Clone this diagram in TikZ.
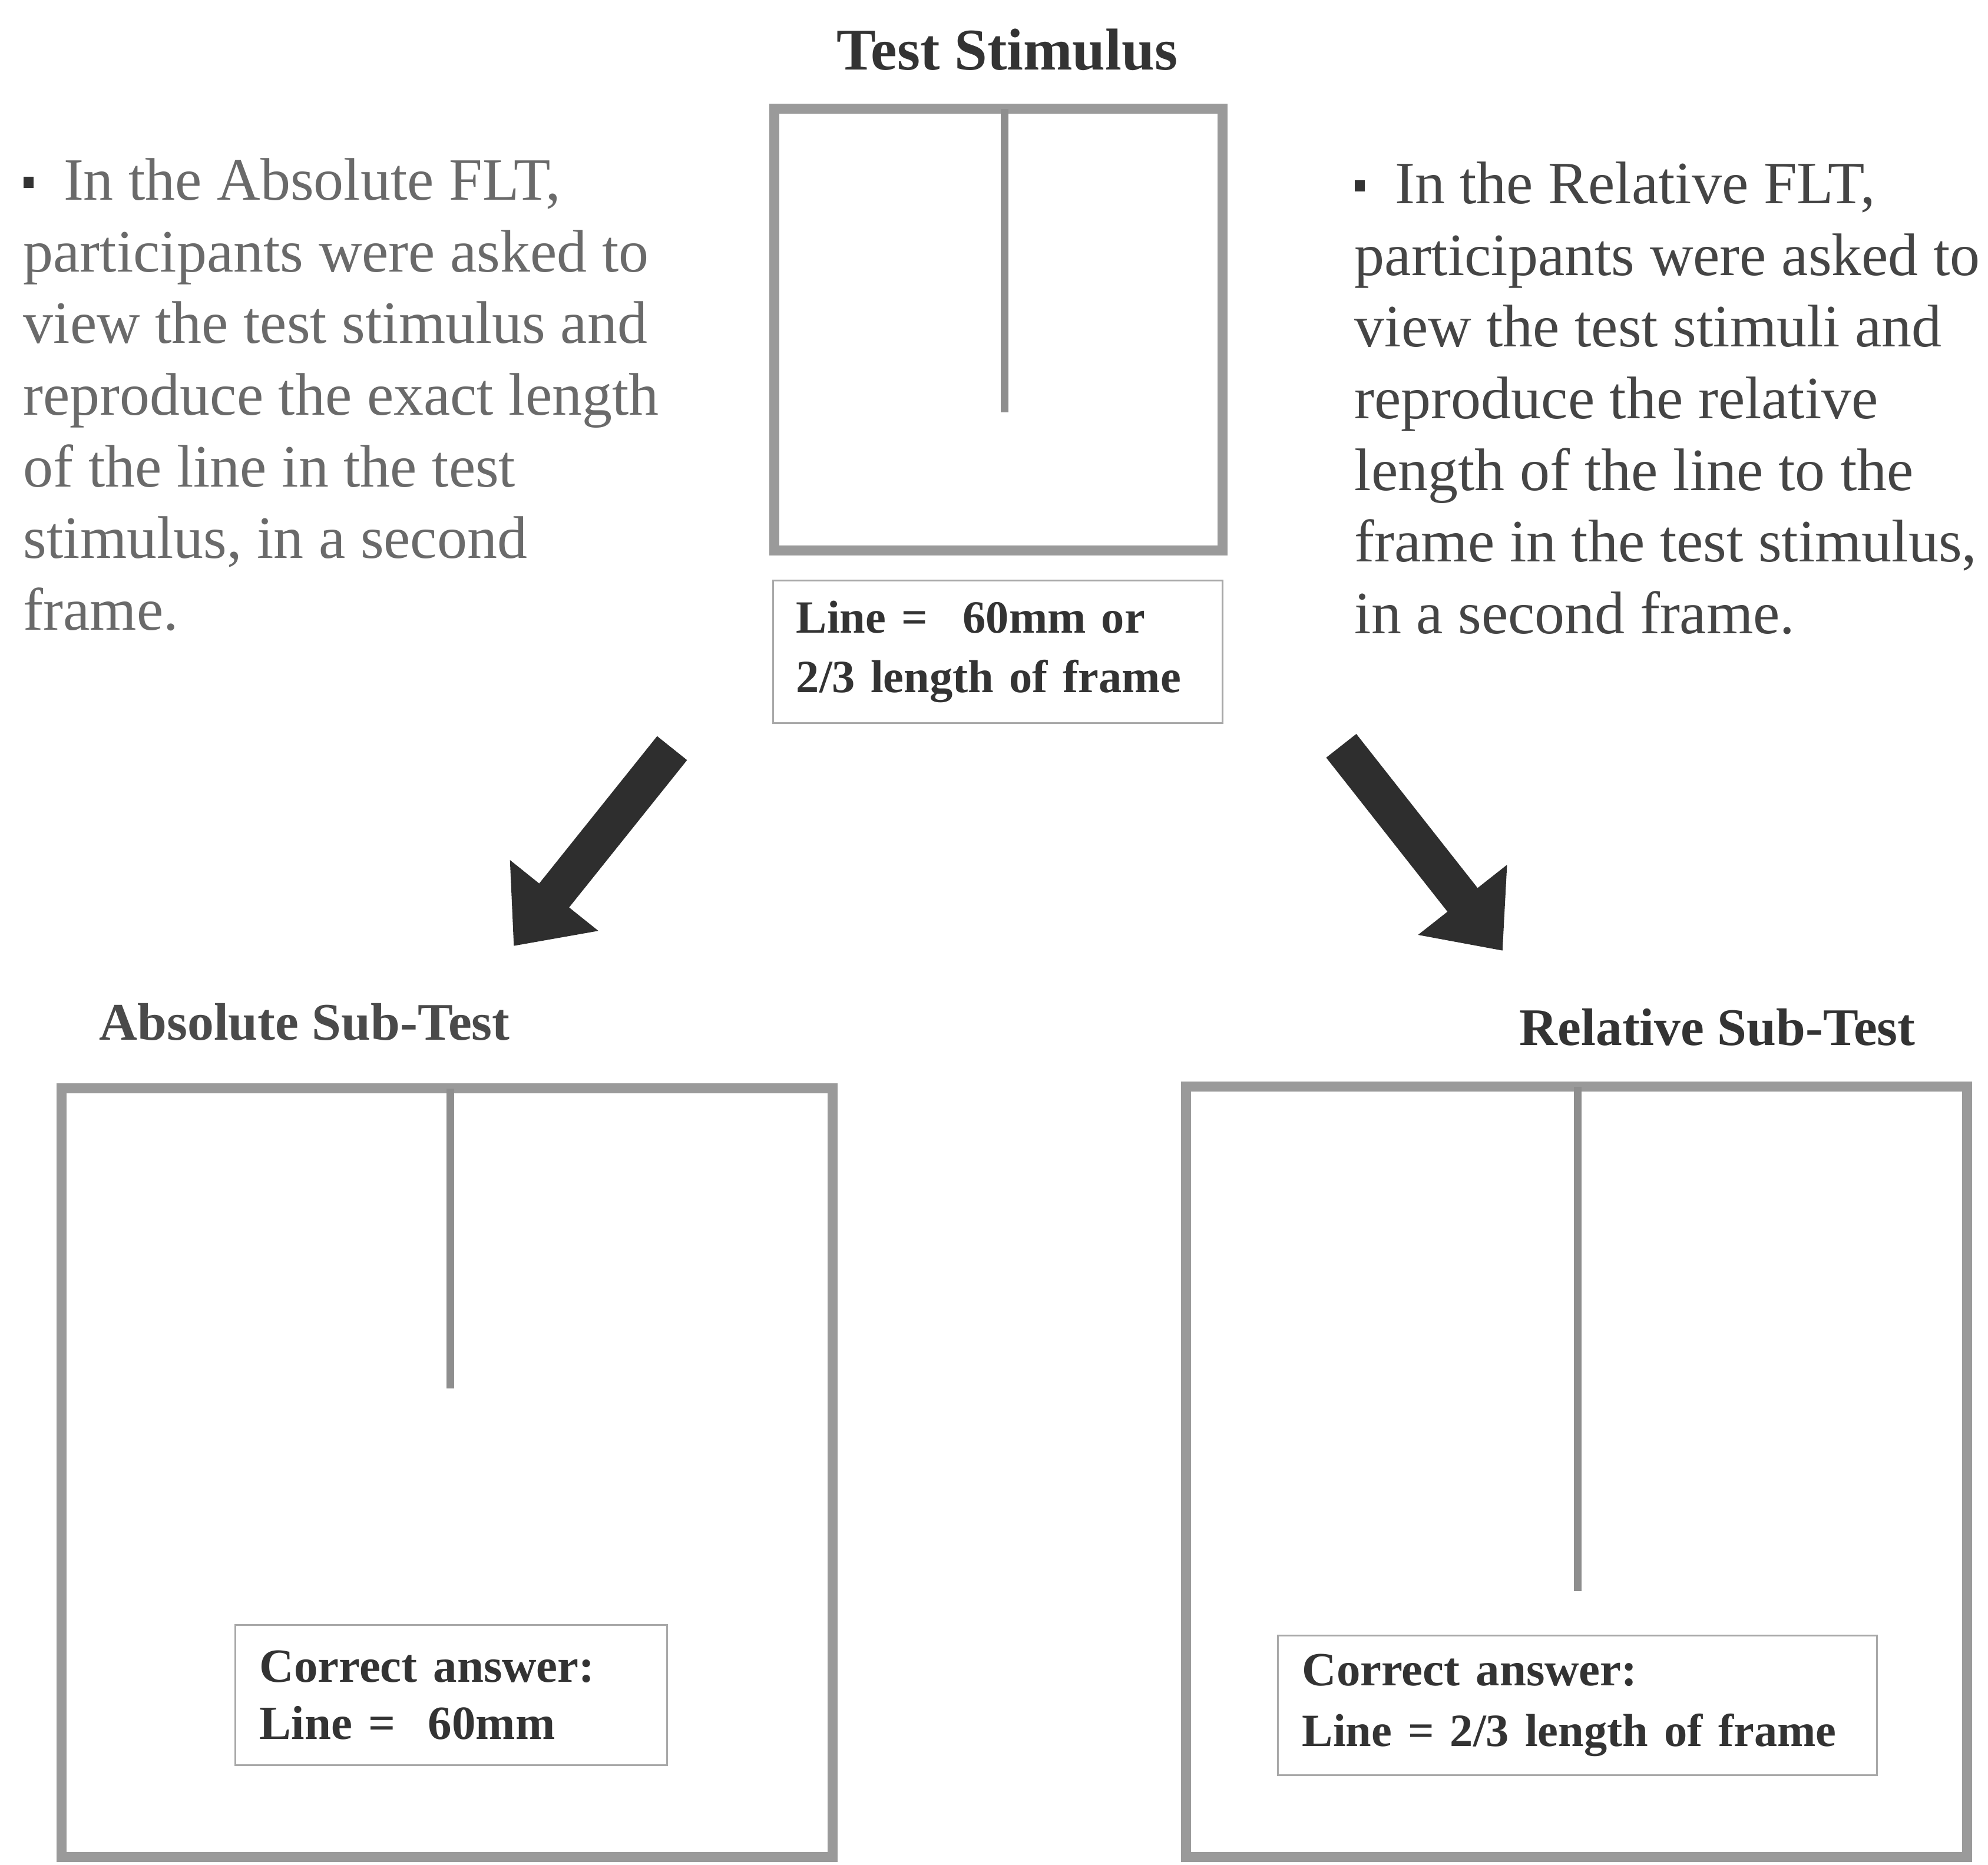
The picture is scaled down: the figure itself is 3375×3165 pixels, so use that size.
\documentclass[tikz,border=0pt]{standalone}
\usepackage{fontspec}
\setmainfont{Liberation Serif}
\usetikzlibrary{arrows.meta}
\definecolor{framegray}{HTML}{9A9A9A}
\definecolor{linegray}{HTML}{8E8E8E}
\definecolor{boxgray}{HTML}{A8A8A8}
\definecolor{titlec}{HTML}{333333}
\definecolor{subc}{HTML}{4A4A4A}
\definecolor{leftc}{HTML}{6A6A6A}
\definecolor{rightc}{HTML}{454545}
\definecolor{bulletc}{HTML}{333333}
\definecolor{arrowc}{HTML}{2E2E2E}
\newcommand{\blt}{{\color{bulletc}\rule[0.2em]{0.17em}{0.19em}}\hspace{0.5em}}
\begin{document}
\begin{tikzpicture}[x=0.01cm,y=-0.01cm,
  stimframe/.style={draw=framegray, line width=0.17cm, inner sep=0, outer sep=0},
  stimline/.style={draw=linegray, line width=0.13cm},
  capbox/.style={draw=boxgray, line width=0.03cm, inner ysep=0, outer sep=0, align=left, text=titlec},
  titletext/.style={inner sep=0, text=titlec, font=\fontsize{28.5}{34}\selectfont\bfseries},
  subtitle/.style={inner sep=0, anchor=base west, font=\fontsize{25.5}{30}\selectfont\bfseries},
  para/.style={inner sep=0, anchor=north west, align=left, font=\fontsize{29}{34.6}\selectfont},
  blockarrow/.style={draw=arrowc, line width=0.65cm, -{Triangle[length=1.1cm, width=1.85cm]}}
]
\useasboundingbox[fill=white] (0,0) rectangle (3375,3165);

% title
\node[titletext, anchor=base] (ttl) at (1710,118) {Test Stimulus};

% top frame
\node[stimframe, minimum width=7.6cm, minimum height=7.49cm] (topframe) at (1695,559.5) {};
\coordinate (tl1) at (1705,185);
\coordinate (tl2) at (1705,700);
\draw[stimline] (tl1) -- (tl2);

% top caption
\node[capbox, minimum width=7.62cm, minimum height=2.41cm, inner xsep=0.39cm, text width=6.84cm,
      font=\fontsize{22.3}{28.5}\selectfont\bfseries] (topcap) at (1694,1106.5)
  {Line =\hspace{0.76em}60mm or\\2/3 length of frame};

% paragraphs
\node[para, text=leftc] (ltext) at (39,268) {\blt In the Absolute FLT,\\
participants were asked to\\
view the test stimulus and\\
reproduce the exact length\\
of the line in the test\\
stimulus, in a second\\
frame.};
\node[para, text=rightc] (rtext) at (2299,274) {\blt In the Relative FLT,\\
participants were asked to\\
view the test stimuli and\\
reproduce the relative\\
length of the line to the\\
frame in the test stimulus,\\
in a second frame.};

% arrows
\coordinate (la1) at (1141,1270);
\coordinate (la2) at (872,1606);
\coordinate (ra1) at (2277,1266);
\coordinate (ra2) at (2551,1614);
\draw[blockarrow] (la1) -- (la2);
\draw[blockarrow] (ra1) -- (ra2);

% subtitles
\node[subtitle, text=subc] (abst) at (168,1765) {Absolute Sub-Test};
\node[subtitle, text=titlec] (relt) at (2579,1774) {Relative Sub-Test};

% bottom left frame
\node[stimframe, minimum width=13.08cm, minimum height=13.04cm] (lframe) at (759,2500) {};
\coordinate (ll1) at (764,1848);
\coordinate (ll2) at (764,2357);
\draw[stimline] (ll1) -- (ll2);
\node[capbox, minimum width=7.32cm, minimum height=2.37cm, inner xsep=0.41cm, text width=6.5cm,
      font=\fontsize{23}{27.6}\selectfont\bfseries] (lcap) at (766,2877.5)
  {Correct answer:\\Line =\hspace{0.69em}60mm};

% bottom right frame
\node[stimframe, minimum width=13.25cm, minimum height=13.07cm] (rframe) at (2676.5,2498.5) {};
\coordinate (rl1) at (2678,1845);
\coordinate (rl2) at (2678,2701);
\draw[stimline] (rl1) -- (rl2);
\node[capbox, minimum width=10.16cm, minimum height=2.36cm, inner xsep=0.41cm, text width=9.34cm,
      font=\fontsize{23}{29.3}\selectfont\bfseries] (rcap) at (2678,2895)
  {Correct answer:\\{\fontsize{22.3}{29.3}\selectfont Line = 2/3 length of frame}};
\end{tikzpicture}
\end{document}
